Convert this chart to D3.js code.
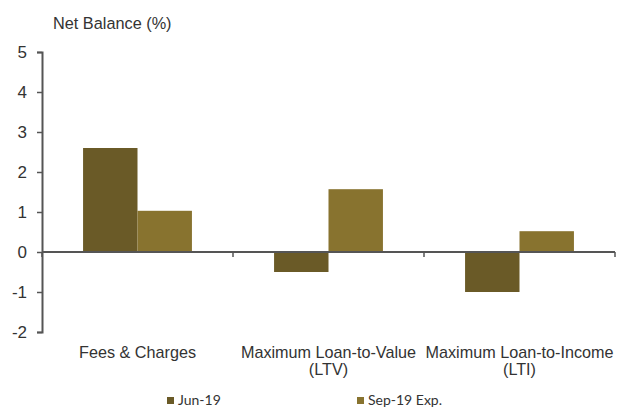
<!DOCTYPE html>
<html>
<head>
<meta charset="utf-8">
<script src="https://cdn.jsdelivr.net/npm/d3@7"></script>
<style>
  body { margin: 0; background: #fff; }
  svg { display: block; font-family: "Liberation Sans", Arial, sans-serif; }
</style>
</head>
<body>
<svg id="chart" width="622" height="410"></svg>
<script>
const categories = [['Fees & Charges'], ['Maximum Loan-to-Value', '(LTV)'], ['Maximum Loan-to-Income', '(LTI)']];
const seriesNames = ['Jun-19', 'Sep-19 Exp.'];
const jun19 = [2.6, -0.5, -1.0];
const sep19 = [1.03, 1.57, 0.52];
const yTicks = [-2, -1, 0, 1, 2, 3, 4, 5];
const colors = ['#6a5a27', '#88732f'];

const svg = d3.select('#chart');
const plotLeft = 42, plotRight = 615, plotTop = 52, plotBottom = 332;

const y = d3.scaleLinear().domain([-2, 5]).range([plotBottom, plotTop]);
const x0 = d3.scaleBand().domain(d3.range(categories.length)).range([plotLeft, plotRight]);
const gap = x0.bandwidth() * 0.215;
const x1 = d3.scaleBand().domain(seriesNames).range([gap, x0.bandwidth() - gap]);

const values = [jun19, sep19];

// bars
categories.forEach((c, i) => {
  const g = svg.append('g').attr('transform', `translate(${x0(i)},0)`);
  seriesNames.forEach((s, k) => {
    const v = values[k][i];
    g.append('rect')
      .attr('x', x1(s))
      .attr('width', x1.bandwidth())
      .attr('y', y(Math.max(0, v)))
      .attr('height', Math.abs(y(v) - y(0)))
      .attr('fill', colors[k]);
  });
});

// y axis
const yAxis = svg.append('g')
  .attr('transform', `translate(${plotLeft},0)`)
  .call(d3.axisLeft(y).tickValues(yTicks).tickFormat(d => String(d))
    .tickSize(5).tickSizeOuter(5).tickPadding(10));
yAxis.select('.domain').attr('stroke', '#555').attr('stroke-width', 2);
yAxis.selectAll('.tick line').attr('stroke', '#555').attr('stroke-width', 1.5);
yAxis.selectAll('.tick text').attr('font-size', 17).attr('fill', '#333')
  .attr('font-family', '"Liberation Sans", Arial, sans-serif');

// x axis at zero
const xAxis = svg.append('g');
xAxis.append('line')
  .attr('x1', plotLeft).attr('x2', plotRight)
  .attr('y1', y(0)).attr('y2', y(0))
  .attr('stroke', '#555').attr('stroke-width', 2);
d3.range(categories.length + 1).forEach(i => {
  const xx = i < categories.length ? x0(i) : plotRight;
  xAxis.append('line')
    .attr('x1', xx).attr('x2', xx)
    .attr('y1', y(0)).attr('y2', y(0) + 5)
    .attr('stroke', '#555').attr('stroke-width', 1.5);
});

// category labels
categories.forEach((lines, i) => {
  const cx = x0(i) + x0.bandwidth() / 2;
  lines.forEach((l, j) => {
    svg.append('text')
      .attr('x', cx)
      .attr('y', 358 + j * 17)
      .attr('text-anchor', 'middle')
      .attr('font-size', 16.2)
      .attr('fill', '#333')
      .text(l);
  });
});

// title
svg.append('text')
  .attr('x', 53).attr('y', 29)
  .attr('font-size', 16.3)
  .attr('fill', '#333')
  .text('Net Balance (%)');

// legend
const legendX = [167, 357];
seriesNames.forEach((s, k) => {
  svg.append('rect')
    .attr('x', legendX[k]).attr('y', 397)
    .attr('width', 7).attr('height', 7)
    .attr('fill', colors[k]);
  svg.append('text')
    .attr('x', legendX[k] + 11).attr('y', 405)
    .attr('font-size', 14)
    .attr('font-family', 'Lato, "Open Sans", sans-serif')
    .attr('fill', '#333')
    .text(s);
});
</script>
</body>
</html>
